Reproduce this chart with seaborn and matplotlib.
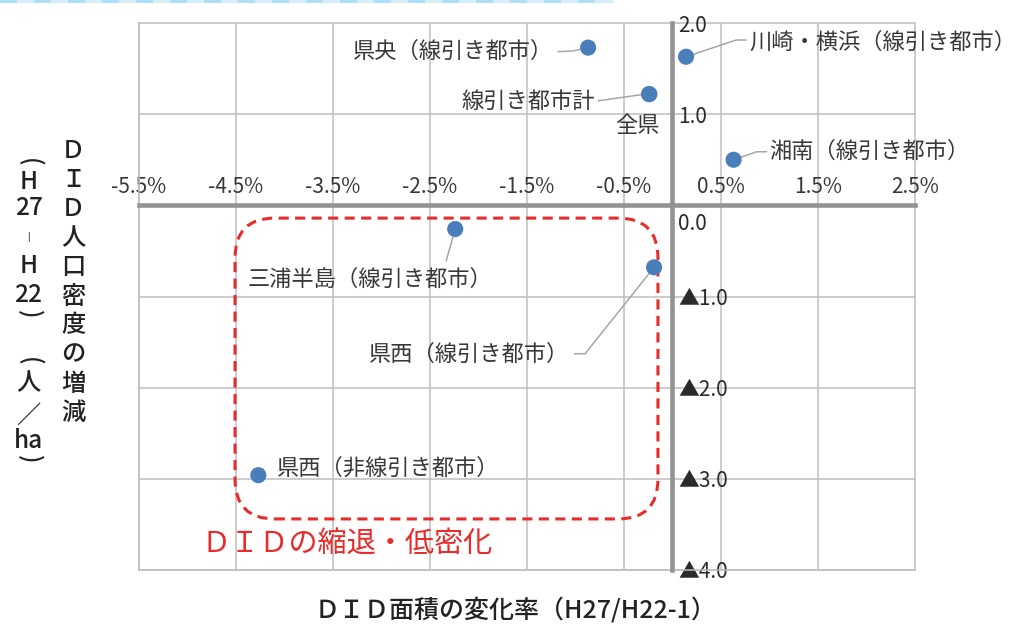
import numpy as np
import pandas as pd
import matplotlib
matplotlib.use("Agg")
import matplotlib.pyplot as plt
import seaborn as sns
from matplotlib.patches import FancyBboxPatch, Rectangle
from matplotlib.transforms import ScaledTranslation

# --- data -------------------------------------------------------------
regions = [
    "県央（線引き都市）",
    "川崎・横浜（線引き都市）",
    "線引き都市計",
    "全県",
    "湘南（線引き都市）",
    "三浦半島（線引き都市）",
    "県西（線引き都市）",
    "県西（非線引き都市）",
]
# DID area change rate (H27/H22-1), in percent
area_change_pct = [-0.87, 0.14, -0.24, -0.24, 0.63, -2.24, -0.19, -4.27]
# DID population density change (H27-H22), persons/ha
density_change = [1.73, 1.63, 1.22, 1.22, 0.50, -0.26, -0.68, -2.96]

x_ticks = [-5.5, -4.5, -3.5, -2.5, -1.5, -0.5, 0.5, 1.5, 2.5]
x_tick_labels = ["-5.5%", "-4.5%", "-3.5%", "-2.5%", "-1.5%", "-0.5%", "0.5%", "1.5%", "2.5%"]
y_ticks = [-4, -3, -2, -1, 0, 1, 2]
y_tick_labels = ["▲4.0", "▲3.0", "▲2.0", "▲1.0", "0.0", "1.0", "2.0"]

highlight_x = (-4.51, -0.15)
highlight_y = (-3.44, -0.14)
highlight_text = "ＤＩＤの縮退・低密化"

df = pd.DataFrame({"region": regions, "area": area_change_pct, "density": density_change})

# --- style ------------------------------------------------------------
sns.set_style("white")
plt.rcParams["font.family"] = ["Noto Sans CJK JP", "DejaVu Sans"]

W, H = 1020, 626
fig = plt.figure(figsize=(W / 100, H / 100), dpi=100)
ax = fig.add_axes([139 / W, (H - 570) / H, 776 / W, 547 / H])

GRID = "#BFBFBF"
AXIS = "#939393"
TEXT = "#383838"
TITLE = "#222222"
RED = "#EA2B2B"
BLUE = "#4A7EBB"

ax.set_xlim(-5.5, 2.5)
ax.set_ylim(-4, 2)
ax.set_xticks(x_ticks)
ax.set_xticklabels(x_tick_labels)
ax.set_yticks(y_ticks)
ax.set_yticklabels(y_tick_labels)

# axes crossing at the origin, labels on the upper / right side
ax.spines["top"].set_position(("data", 0))
ax.spines["right"].set_position(("data", 0))
for s in ("top", "right"):
    ax.spines[s].set_color(AXIS)
    ax.spines[s].set_linewidth(3.3)
    ax.spines[s].set_zorder(3)
for s in ("left", "bottom"):
    ax.spines[s].set_color(GRID)
    ax.spines[s].set_linewidth(1.1)
ax.xaxis.set_ticks_position("top")
ax.yaxis.set_ticks_position("right")
ax.tick_params(axis="x", length=0, pad=5, labelsize=15, labelcolor=TEXT)
ax.tick_params(axis="y", length=0, pad=4, labelsize=15, labelcolor="#2a2a2a")
for lab in ax.get_yticklabels():
    lab.set_horizontalalignment("left")
    if lab.get_text() == "0.0":
        lab.set_verticalalignment("top")
        lab.set_transform(lab.get_transform() + ScaledTranslation(0, -0.08, fig.dpi_scale_trans))

ax.grid(True, color=GRID, linewidth=1.1)
ax.set_axisbelow(True)
for gl in ax.get_xgridlines() + ax.get_ygridlines():
    gl.set_clip_on(False)

# highlighted region of shrinking / lower density
box = FancyBboxPatch(
    (highlight_x[0], highlight_y[0]),
    highlight_x[1] - highlight_x[0],
    highlight_y[1] - highlight_y[0],
    boxstyle="round,pad=0,rounding_size=0.41",
    mutation_aspect=1.07,
    fill=False, edgecolor=RED, linewidth=2.2,
    linestyle=(0, (3.3, 2.1)), zorder=2,
)
ax.add_patch(box)
ax.text((highlight_x[0] + highlight_x[1]) / 2 - 1.02, highlight_y[0] - 0.28,
        highlight_text, color=RED, fontsize=21, ha="center", va="center")

# points
sns.scatterplot(data=df, x="area", y="density", ax=ax, s=135, color=BLUE,
                edgecolor="none", zorder=5, legend=False, clip_on=False)
ax.set_xlabel("")
ax.set_ylabel("")

# label placement: offsets in pixels (right, down) and leader-line vertices
layout = {
    "県央（線引き都市）": dict(off=(-35, 4), ha="right", leader=[(-30, 4), (-16, 3.5), (0, 0)]),
    "川崎・横浜（線引き都市）": dict(off=(63, -14), ha="left", leader=[(0, 0), (50, -16.7), (60, -16.7)]),
    "線引き都市計": dict(off=(-54, 7.4), ha="right", leader=[(-51, 6.7), (-11, 1), (0, 0)]),
    "全県": dict(off=(-12, 31), ha="center", leader=None),
    "湘南（線引き都市）": dict(off=(36, -8.3), ha="left", leader=[(0, 0), (23, -8), (33, -8)]),
    "三浦半島（線引き都市）": dict(off=(-85, 50), ha="center", leader=[(0, 0), (-9, 31.7)]),
    "県西（線引き都市）": dict(off=(-84.6, 87.4), ha="right", leader=[(-79.6, 86.4), (-69, 86.4), (0, 0)]),
    "県西（非線引き都市）": dict(off=(19, -6.6), ha="left", leader=None),
}

to_disp = ax.transData
to_data = ax.transData.inverted()


def shifted(x, y, dx, dy):
    bx, by = to_disp.transform((x, y))
    return to_data.transform((bx + dx, by - dy))


for name, xv, yv in zip(regions, area_change_pct, density_change):
    spec = layout[name]
    tx, ty = shifted(xv, yv, *spec["off"])
    ax.text(tx, ty, name, fontsize=16.0, color=TEXT, ha=spec["ha"], va="center", zorder=6)
    if spec["leader"]:
        pts = np.array([shifted(xv, yv, dx, dy) for dx, dy in spec["leader"]])
        ax.plot(pts[:, 0], pts[:, 1], color="#A6A6A6", linewidth=1.1, zorder=4, clip_on=False)

# axis titles
fig.text(515.5 / W, 1 - 610 / H, "ＤＩＤ面積の変化率（H27/H22-1）",
         fontsize=18, color=TITLE, ha="center", va="center", fontweight="medium")

right_col = list("ＤＩＤ人口密度の増減")
for i, ch in enumerate(right_col):
    fig.text(73 / W, 1 - (151 + 29.1 * i) / H, ch, fontsize=17.5, color=TITLE,
             ha="center", va="center", fontweight="medium")

# second column in vertical writing; brackets are turned a quarter turn
left_col = [("(", 162, 17.5, -90), ("H", 182, 17.5, 0), ("27", 208, 17.5, 0), ("|", 237, 6, 0),
            ("H", 266, 17.5, 0), ("22", 295, 17.5, 0), (")", 314, 17.5, -90), ("(", 361, 17.5, -90),
            ("人", 383, 17.5, 0), ("／", 416, 17.5, 0), ("ha", 441, 17.5, 0), (")", 459, 17.5, -90)]
for ch, yp, fs, rot in left_col:
    fig.text(28.5 / W, 1 - yp / H, ch, fontsize=fs, color=TITLE, rotation=rot,
             rotation_mode="anchor", ha="center", va="center",
             fontweight="bold" if ch == "|" else "medium")

# striped band along the top edge
for i, x0 in enumerate(range(0, 600, 17)):
    fig.patches.append(Rectangle((x0 / W, 1 - 3 / H), 17.5 / W, 3 / H,
                                 transform=fig.transFigure, figure=fig,
                                 facecolor="#ADDFF6" if i % 2 == 0 else "#D5EEFA",
                                 edgecolor="none"))

fig.savefig("out.png", dpi=100)
